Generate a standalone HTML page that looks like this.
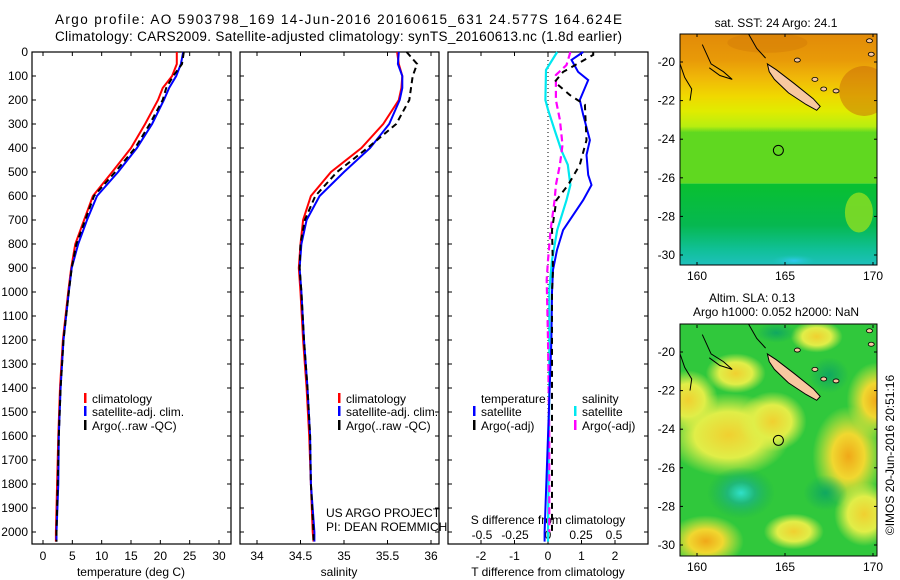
<!DOCTYPE html>
<html><head><meta charset="utf-8">
<style>
html,body{margin:0;padding:0;background:#fff;}
svg{display:block;font-family:"Liberation Sans",sans-serif;}
text{fill:#000;}
</style></head>
<body>
<svg id="fig" width="900" height="580" viewBox="0 0 900 580" xmlns="http://www.w3.org/2000/svg">
<defs>
  <clipPath id="clipMapTop"><rect x="680" y="34" width="197" height="231"/></clipPath>
  <clipPath id="clipMapBot"><rect x="680" y="324" width="197" height="232"/></clipPath>
  <linearGradient id="sstGrad" x1="0" y1="0" x2="0" y2="1">
    <stop offset="0" stop-color="#e28a08"/>
    <stop offset="0.18" stop-color="#e89a08"/>
    <stop offset="0.30" stop-color="#f0b808"/>
    <stop offset="0.42" stop-color="#f0d800"/>
    <stop offset="0.52" stop-color="#e0ec00"/>
    <stop offset="0.62" stop-color="#b8ee10"/>
    <stop offset="0.66" stop-color="#60d820"/>
  </linearGradient>
  <linearGradient id="sstLow" x1="0" y1="0" x2="0" y2="1">
    <stop offset="0" stop-color="#08c030"/>
    <stop offset="0.5" stop-color="#06b850"/>
    <stop offset="0.8" stop-color="#10c098"/>
    <stop offset="1" stop-color="#20c0c0"/>
  </linearGradient>
  <radialGradient id="blobY"><stop offset="0" stop-color="#f0d030"/><stop offset="0.55" stop-color="#e0ee48"/><stop offset="1" stop-color="#e0ee48" stop-opacity="0"/></radialGradient>
  <radialGradient id="blobO"><stop offset="0" stop-color="#f0a818"/><stop offset="0.45" stop-color="#f0d830"/><stop offset="1" stop-color="#e8ec40" stop-opacity="0"/></radialGradient>
  <radialGradient id="blobC"><stop offset="0" stop-color="#30e0c8"/><stop offset="0.4" stop-color="#20b878"/><stop offset="1" stop-color="#18b050" stop-opacity="0"/></radialGradient>
  <radialGradient id="blobG"><stop offset="0" stop-color="#10a860"/><stop offset="1" stop-color="#10a860" stop-opacity="0"/></radialGradient>
  <radialGradient id="blobCyan"><stop offset="0" stop-color="#30c8f0"/><stop offset="1" stop-color="#20c8c0" stop-opacity="0"/></radialGradient>
</defs>

<text x="55" y="24" font-size="13.5" textLength="567">Argo profile: AO 5903798_169 14-Jun-2016 20160615_631 24.577S 164.624E</text>
<text x="55" y="41" font-size="13.5" textLength="567">Climatology: CARS2009. Satellite-adjusted climatology: synTS_20160613.nc (1.8d earlier)</text>

<g id="panels"></g>
<g id="maps"></g>
</svg>

<script>
// ---------- DATA ----------
const depthT = [0,50,100,150,200,300,400,500,600,700,800,900,1000,1200,1400,1600,1800,2000,2040];
const tempClim = [22.8,22.8,22.0,20.4,19.6,17.4,15.0,11.8,8.5,7.0,5.5,4.8,4.3,3.4,2.9,2.6,2.4,2.2,2.2];
const tempSat  = [23.9,23.5,22.7,21.5,20.6,18.6,16.0,12.8,9.2,7.5,6.0,4.9,4.4,3.5,3.0,2.7,2.6,2.3,2.3];
const tempArgo = [24.0,23.7,22.2,21.0,20.4,18.2,15.7,12.3,8.7,7.2,5.7,4.9,4.4,3.5,3.0,2.7,2.5,2.3,2.3];
const salClim = [35.61,35.63,35.67,35.66,35.63,35.45,35.20,34.85,34.62,34.53,34.50,34.48,34.50,34.53,34.57,34.60,34.62,34.64,34.65];
const salSat  = [35.63,35.62,35.67,35.67,35.64,35.52,35.30,35.00,34.72,34.57,34.51,34.49,34.51,34.54,34.58,34.61,34.62,34.66,34.66];
const salArgo = [35.72,35.84,35.79,35.77,35.75,35.60,35.27,34.92,34.67,34.55,34.50,34.49,34.51,34.54,34.58,34.61,34.62,34.65,34.65];
const depthTSat = [0,33,83,117,200,262,367,429,512,554,617,742,825,908,1000,1200,1400,1600,1800,2000,2040];
const dTSat     = [1.05,0.7,0.9,1.2,0.95,1.05,1.25,1.15,1.2,1.3,1.05,0.45,0.27,0.15,0.12,0.1,0.05,0,-0.05,-0.1,-0.1];
const depthTArgo = [0,12,83,125,179,220,367,470,554,617,742,908,1000,1400,1800,2000];
const dTArgo     = [1.35,1.35,0.45,0.2,0.65,1.1,1.15,0.95,0.6,0.25,0.12,0.15,0.12,0.12,0.12,0.12];
const depthSSat = [0,75,200,240,325,408,470,554,617,742,867,992,1400,2000,2040];
const dSSat     = [0.07,-0.015,-0.02,0,0.05,0.1,0.15,0.17,0.14,0.07,0.03,0.01,0.01,0.0,0.0];
const depthSArgo = [0,54,96,200,283,387,470,554,617,742,867,950,1200,1600,2000];
const dSArgo     = [0.17,0.14,0.06,0.06,0.09,0.11,0.09,0.06,0.05,0.02,0.0,-0.01,0.0,0.01,0.01];
const depthTicks = [0,100,200,300,400,500,600,700,800,900,1000,1100,1200,1300,1400,1500,1600,1700,1800,1900,2000];
const tempTicks = [0,5,10,15,20,25,30];
const salTicks = [34,34.5,35,35.5,36];
const salTickLabels = ["34","34.5","35","35.5","36"];
const dTTicks = [-2,-1,0,1,2];
const dSTicks = [-0.5,-0.25,0,0.25,0.5];
const dSTickLabels = ["-0.5","-0.25","0","0.25","0.5"];
const latTicks = [-20,-22,-24,-26,-28,-30];
const lonTicks = [160,165,170];
const argoLon = 164.624, argoLat = -24.577;

// ---------- SCALES ----------
const yD = d => 52 + 0.24*d;
const xT = t => 43 + 5.867*t;
const xS = s => 257 + 87*(s-34);
const xdT = v => 548 + 33.5*v;
const xdS = v => 548 + 132*v;
const NS = "http://www.w3.org/2000/svg";
const root = document.getElementById('panels');
const mroot = document.getElementById('maps');

function mk(tag, attrs, parent, txt){
  const e = document.createElementNS(NS, tag);
  for (const k in attrs) e.setAttribute(k, attrs[k]);
  if (txt !== undefined) e.textContent = txt;
  (parent||root).appendChild(e);
  return e;
}
function line(xs, ds, xf, color, dash, name, w){
  const pts = xs.map((v,i)=> xf(v).toFixed(1)+','+yD(ds[i]).toFixed(1)).join(' ');
  const e = mk('polyline', {points:pts, fill:'none', stroke:color, 'stroke-width':w||2, 'stroke-dasharray':dash||'none'});
  
  
}

const panels = [{x0:32,x1:231,name:'temperature-panel'},{x0:240,x1:439,name:'salinity-panel'},{x0:448,x1:648,name:'difference-panel'}];
panels.forEach(p=>{
  const r = mk('rect',{x:p.x0,y:52,width:p.x1-p.x0,height:492,fill:'none',stroke:'#000','stroke-width':1.2});
  
  
  depthTicks.forEach(d=>{
    mk('line',{x1:p.x0,x2:p.x0+4,y1:yD(d),y2:yD(d),stroke:'#000'});
    mk('line',{x1:p.x1-4,x2:p.x1,y1:yD(d),y2:yD(d),stroke:'#000'});
  });
});
depthTicks.forEach(d=>{
  const t = mk('text',{x:28,y:yD(d)+4,'font-size':12,'text-anchor':'end'},root,String(d));
  
  
});
function xticks(ticks, labels, xf, yLab){
  ticks.forEach((v,i)=>{
    const x = xf(v);
    mk('line',{x1:x,x2:x,y1:52,y2:56,stroke:'#000'});
    mk('line',{x1:x,x2:x,y1:540,y2:544,stroke:'#000'});
    const t = mk('text',{x:x,y:yLab,'font-size':12,'text-anchor':'middle'},root,labels[i]);
    
    
  });
}
xticks(tempTicks, tempTicks.map(String), xT, 560);
xticks(salTicks, salTickLabels, xS, 560);
xticks(dTTicks, dTTicks.map(String), xdT, 560);
dSTicks.forEach((v,i)=>{
  const t = mk('text',{x:xdS(v),y:539,'font-size':12,'text-anchor':'middle'},root,dSTickLabels[i]);
  
  
});

function label(x,y,txt,name,anchor,size){
  const t = mk('text',{x:x,y:y,'font-size':size||12,'text-anchor':anchor||'start'},root,txt);
  
  
  return t;
}
label(131,576,'temperature (deg C)','temperature-axis-title','middle');
label(339,576,'salinity','salinity-axis-title','middle');
label(548,576,'T difference from climatology','t-diff-axis-title','middle');
label(548,524,'S difference from climatology','s-diff-axis-title','middle');
label(326,517,'US ARGO PROJECT','project-label');
label(326,531,'PI: DEAN ROEMMICH','pi-label');

const z = mk('line',{x1:548,x2:548,y1:52,y2:544,stroke:'#000','stroke-dasharray':'1,3'});



line(tempClim, depthT, xT, '#ff0000', null, 'temp-climatology-line');
line(tempSat, depthT, xT, '#0000ff', null, 'temp-satellite-line');
line(tempArgo, depthT, xT, '#000000', '6,4', 'temp-argo-line');
line(salClim, depthT, xS, '#ff0000', null, 'sal-climatology-line');
line(salSat, depthT, xS, '#0000ff', null, 'sal-satellite-line');
line(salArgo, depthT, xS, '#000000', '6,4', 'sal-argo-line');
line(dSSat, depthSSat, xdS, '#00e8f0', null, 's-diff-satellite-line', 2.2);
line(dSArgo, depthSArgo, xdS, '#ff00ff', '7,4', 's-diff-argo-line', 2.2);
line(dTSat, depthTSat, xdT, '#0000ff', null, 't-diff-satellite-line');
line(dTArgo, depthTArgo, xdT, '#000000', '6,5', 't-diff-argo-line');

function legItem(bx, y, color, txt, name){
  const b = mk('rect',{x:bx,y:y-10,width:2.5,height:10,fill:color});
  
  
  label(bx+8, y, txt, name);
}
legItem(84,403,'#ff0000','climatology','legend-climatology');
legItem(84,416,'#0000ff','satellite-adj. clim.','legend-satellite');
legItem(84,430,'#000000','Argo(..raw -QC)','legend-argo');
legItem(338,403,'#ff0000','climatology','legend-climatology-2');
legItem(338,416,'#0000ff','satellite-adj. clim.','legend-satellite-2');
legItem(338,430,'#000000','Argo(..raw -QC)','legend-argo-2');
label(481,403,'temperature','legend-temperature-title');
label(582,403,'salinity','legend-salinity-title');
legItem(473,416,'#0000ff','satellite','legend-t-satellite');
legItem(473,430,'#000000','Argo(-adj)','legend-t-argo');
legItem(574,416,'#00e8f0','satellite','legend-s-satellite');
legItem(574,430,'#ff00ff','Argo(-adj)','legend-s-argo');

// ---------- MAPS ----------
const lonX = lon => 697 + 17.6*(lon-160);
function mapLayer(top, clipId, name, kind){
  const latY = lat => top + 19.3*(-20-lat);
  const g = mk('g',{'clip-path':'url(#'+clipId+')'}, mroot);
  
  
  const y0 = latY(-18.5), y1 = latY(-30.6);
  if (kind==='sst'){
    mk('rect',{x:680,y:y0,width:197,height:latY(-26.3)-y0,fill:'url(#sstGrad)'},g);
    mk('rect',{x:680,y:latY(-26.3),width:197,height:y1-latY(-26.3),fill:'url(#sstLow)'},g);
    mk('ellipse',{cx:lonX(169.5),cy:latY(-21.5),rx:25,ry:25,fill:'#c86808',opacity:0.5},g);
    mk('ellipse',{cx:lonX(164),cy:latY(-19),rx:40,ry:10,fill:'#d07808',opacity:0.4},g);
    mk('ellipse',{cx:lonX(169.2),cy:latY(-27.8),rx:14,ry:20,fill:'#90e020',opacity:0.8},g);
    mk('ellipse',{cx:lonX(165.5),cy:latY(-30.3),rx:22,ry:6,fill:'url(#blobCyan)'},g);
  } else {
    mk('rect',{x:680,y:y0,width:197,height:y1-y0,fill:'#30c83c'},g);
    mk('ellipse',{cx:lonX(161.8),cy:latY(-24.3),rx:62,ry:42,fill:'url(#blobY)'},g);
    mk('ellipse',{cx:lonX(164.3),cy:latY(-23.6),rx:34,ry:30,fill:'url(#blobY)'},g);
    mk('ellipse',{cx:lonX(159.5),cy:latY(-22.5),rx:30,ry:30,fill:'url(#blobY)'},g);
    mk('ellipse',{cx:lonX(168.6),cy:latY(-25.4),rx:36,ry:50,fill:'url(#blobO)'},g);
    mk('ellipse',{cx:lonX(170.2),cy:latY(-22.5),rx:30,ry:38,fill:'url(#blobO)'},g);
    mk('ellipse',{cx:lonX(160.5),cy:latY(-29.8),rx:38,ry:26,fill:'url(#blobO)'},g);
    mk('ellipse',{cx:lonX(169.5),cy:latY(-28.4),rx:30,ry:32,fill:'url(#blobY)'},g);
    mk('ellipse',{cx:lonX(165.5),cy:latY(-29.3),rx:30,ry:18,fill:'url(#blobY)'},g);
    mk('ellipse',{cx:lonX(162.2),cy:latY(-21.1),rx:30,ry:20,fill:'url(#blobY)'},g);
    mk('ellipse',{cx:lonX(166.8),cy:latY(-19.2),rx:26,ry:16,fill:'url(#blobY)'},g);
    mk('ellipse',{cx:lonX(162.5),cy:latY(-27.3),rx:34,ry:26,fill:'url(#blobC)'},g);
    mk('ellipse',{cx:lonX(167.3),cy:latY(-27.3),rx:22,ry:18,fill:'url(#blobG)'},g);
    mk('ellipse',{cx:lonX(167.5),cy:latY(-21.2),rx:20,ry:18,fill:'url(#blobG)'},g);
    mk('ellipse',{cx:lonX(164.5),cy:latY(-19),rx:20,ry:10,fill:'url(#blobG)'},g);
  }
  const isl = [[164.0,-20.1],[164.5,-20.4],[165.5,-21.1],[166.6,-21.9],[167.0,-22.3],[166.8,-22.5],[166.2,-22.2],[165.2,-21.6],[164.4,-20.9],[164.1,-20.5]];
  const ip = mk('polygon',{points:isl.map(p=>lonX(p[0]).toFixed(1)+','+latY(p[1]).toFixed(1)).join(' '),fill:'#f8c8a0',stroke:'#000','stroke-width':1},g);
  
  
  const reef1 = [[160.3,-19.1],[160.8,-20.1],[161.5,-20.5],[162.0,-20.9],[161.3,-20.7],[160.7,-20.3]];
  mk('polyline',{points:reef1.map(p=>lonX(p[0]).toFixed(1)+','+latY(p[1]).toFixed(1)).join(' '),fill:'none',stroke:'#000','stroke-width':1},g);
  const reef2 = [[159.0,-20.0],[159.3,-20.8],[159.7,-21.4],[159.6,-22.0]];
  mk('polyline',{points:reef2.map(p=>lonX(p[0]).toFixed(1)+','+latY(p[1]).toFixed(1)).join(' '),fill:'none',stroke:'#000','stroke-width':1},g);
  const reef3 = [[162.9,-18.5],[163.4,-19.3],[163.9,-19.8]];
  mk('polyline',{points:reef3.map(p=>lonX(p[0]).toFixed(1)+','+latY(p[1]).toFixed(1)).join(' '),fill:'none',stroke:'#000','stroke-width':1},g);
  [[166.7,-20.9],[167.2,-21.4],[167.9,-21.5],[165.7,-19.9],[169.8,-18.9],[169.9,-19.6]].forEach(p=>{
    mk('ellipse',{cx:lonX(p[0]),cy:latY(p[1]),rx:3,ry:2,fill:'#f8c8a0',stroke:'#000','stroke-width':0.8},g);
  });
  const c = mk('circle',{cx:lonX(argoLon),cy:latY(argoLat),r:5,fill:'none',stroke:'#000','stroke-width':1},mroot);
  
  
  const fr = mk('rect',{x:680,y:top===62?34:324,width:197,height:top===62?231:232,fill:'none',stroke:'#000'},mroot);
  
  
  const yb = top===62?265:556;
  latTicks.forEach(lat=>{
    const y = latY(lat);
    mk('line',{x1:680,x2:683,y1:y,y2:y,stroke:'#000'},mroot);
    mk('line',{x1:874,x2:877,y1:y,y2:y,stroke:'#000'},mroot);
    const t = mk('text',{x:675,y:y+4,'font-size':12,'text-anchor':'end'},mroot,String(lat));
    
    
  });
  lonTicks.forEach(lon=>{
    const x = lonX(lon);
    mk('line',{x1:x,x2:x,y1:yb-3,y2:yb,stroke:'#000'},mroot);
    mk('line',{x1:x,x2:x,y1:yb-231,y2:yb-228,stroke:'#000'},mroot);
    const t = mk('text',{x:x,y:yb+15,'font-size':12,'text-anchor':'middle'},mroot,String(lon));
    
    
  });
}
mapLayer(62,'clipMapTop','sst-map','sst');
mapLayer(352,'clipMapBot','sla-map','sla');

function mlabel(x,y,txt,name,extra){
  const t = mk('text',Object.assign({x:x,y:y,'font-size':12,'text-anchor':'middle'},extra||{}),mroot,txt);
  
  
}
mlabel(776,27,'sat. SST: 24 Argo: 24.1','sst-map-title');
mlabel(752,302,'Altim. SLA: 0.13','sla-map-title');
mlabel(776,316,'Argo h1000: 0.052 h2000: NaN','sla-map-subtitle');
mlabel(0,0,'©IMOS 20-Jun-2016 20:51:16','timestamp-label',{transform:'translate(894,455) rotate(-90)'});
</script>
</body></html>
